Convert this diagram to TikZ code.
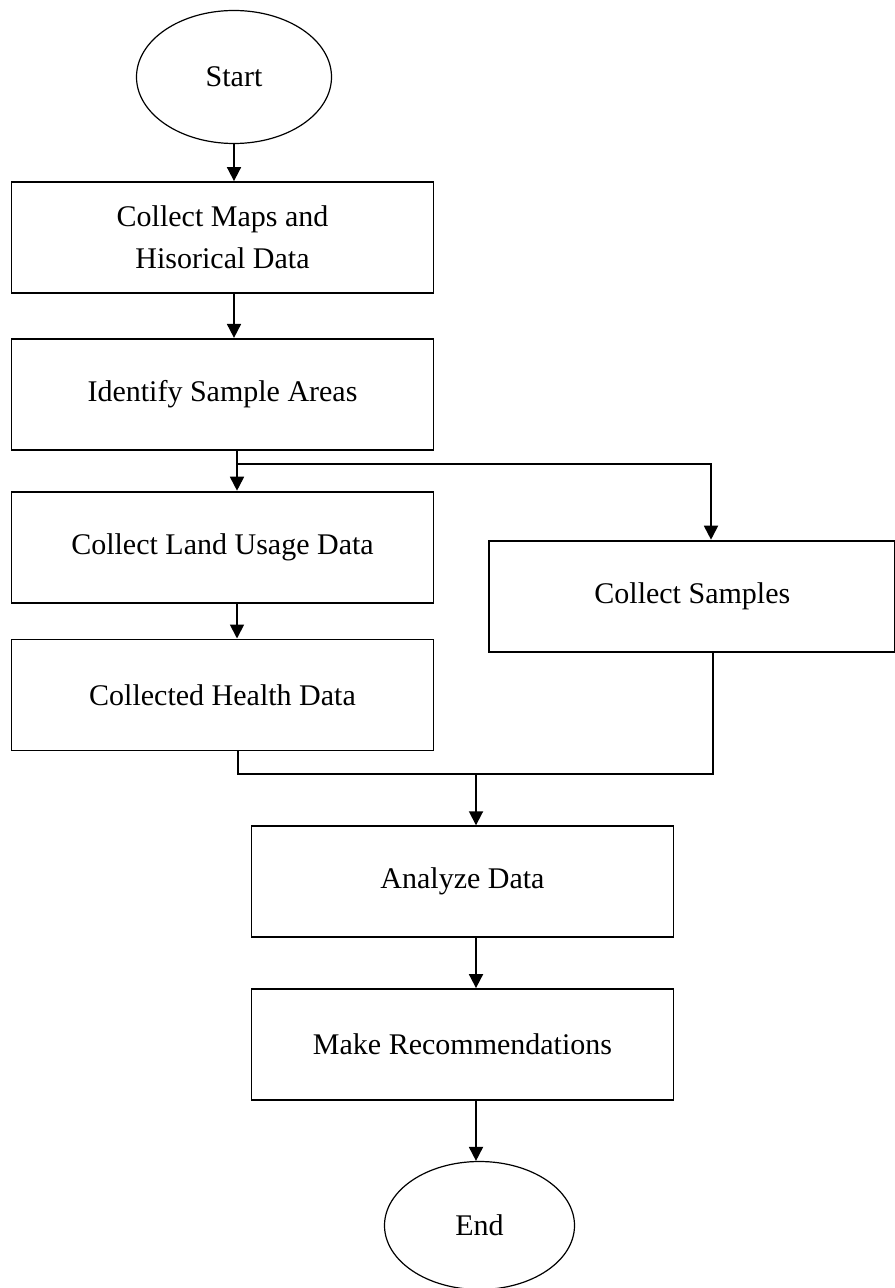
\documentclass[tikz,border=0pt]{standalone}
\usepackage{fontspec}
\setmainfont{Liberation Serif}
\usetikzlibrary{shapes.geometric,positioning,arrows.meta}

\begin{document}
\begin{tikzpicture}[x=0.5pt, y=-0.5pt,
stepbox/.style={rectangle, draw=black, line width=0.9pt, minimum width=211pt, minimum height=55.5pt, align=center, font=\fontsize{15}{21}\selectfont},
termnode/.style={ellipse, draw=black, line width=0.6pt, inner sep=0pt, font=\fontsize{15}{21}\selectfont},
flow/.style={line width=0.9pt, -{Triangle[width=7pt,length=7pt]}},
]
\useasboundingbox (0,0) rectangle (894,1288);

%Nodes
\node[termnode, minimum width=97.5pt, minimum height=66.5pt] (start) at (234,77) {Start};
\node[stepbox]          (maps)     [below=18.5pt of start, xshift=-5.75pt] {Collect Maps and\\ Hisorical Data};
\node[stepbox]          (ident)    [below=22pt of maps] {Identify Sample Areas};
\node[stepbox]          (land)     [below=20pt of ident] {Collect Land Usage Data};
\node[stepbox]          (health)   [below=17.5pt of land] {Collected Health Data};
\node[stepbox, minimum width=203pt] (samples) [below right=24.5pt and 27pt of land.north east] {Collect Samples};
\node[stepbox]          (analyze)  [below right=37pt and 120pt of health.south west] {Analyze Data};
\node[stepbox]          (recom)    [below=25pt of analyze] {Make Recommendations};
\node[termnode, minimum width=95pt, minimum height=64pt] (stop) [below=30pt of recom, xshift=8.5pt] {End};

%Junctions
\coordinate (split)  at (237,464);
\coordinate (splitR) at (711,464);
\coordinate (mergeL) at (238,774);
\coordinate (mergeR) at (713,774);
\coordinate (merge)  at (476,774);

%Lines
\draw[flow] (start.south) -- (start.south |- maps.north);
\draw[flow] (maps.south -| start) -- (ident.north -| start);

\draw[line width=0.9pt] (ident.south -| split) -- (split);
\draw[flow] (split) -- (land.north -| split);
\draw[flow] (split) -- (splitR) -- (samples.north -| splitR);
\draw[flow] (land.south -| split) -- (health.north -| split);

\draw[line width=0.9pt] (health.south -| mergeL) -- (mergeL) -- (mergeR) -- (samples.south -| mergeR);
\draw[flow] (merge) -- (analyze.north -| merge);
\draw[flow] (analyze.south -| merge) -- (recom.north -| merge);
\draw[flow] (recom.south -| merge) -- (stop.north -| merge);

\end{tikzpicture}
\end{document}
